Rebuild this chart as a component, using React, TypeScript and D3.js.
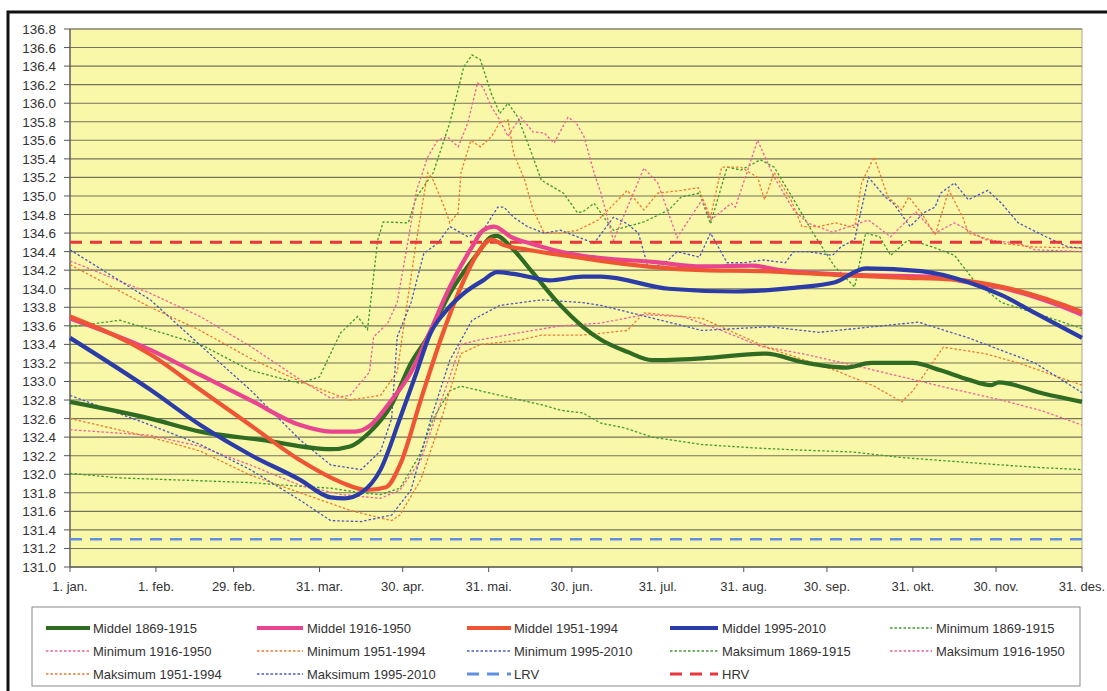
import * as d3 from 'd3';

type Pt = [number, number];

// x-akse: dag i året (skuddår), y-akse: vannstand (moh)
const tickDays = [0, 31, 59, 90, 120, 151, 181, 212, 243, 273, 304, 334, 365];
const tickLabels = ['1. jan.', '1. feb.', '29. feb.', '31. mar.', '30. apr.', '31. mai.', '30. jun.', '31. jul.', '31. aug.', '30. sep.', '31. okt.', '30. nov.', '31. des.'];
const yTicks = d3.range(0, 30).map(i => 131 + i * 0.2);

const lrv = 131.3;
const hrv = 134.5;

const middel1869: Pt[] = [
  [0, 132.78], [29, 132.6], [47, 132.46], [69, 132.37], [94, 132.27], [101, 132.3], [108, 132.45], [116, 132.75],
  [123, 133.2], [129, 133.48], [137, 133.95], [147, 134.38], [152, 134.56], [154, 134.57], [159, 134.45], [167, 134.17],
  [176, 133.85], [185, 133.59], [191.5, 133.45], [201, 133.32], [210, 133.23], [228, 133.25], [251, 133.3], [264, 133.21],
  [280, 133.15], [289, 133.2], [304, 133.2], [314, 133.12], [324, 133.02], [332, 132.96], [335, 132.99], [351, 132.87], [365, 132.78],
];
const middel1916: Pt[] = [
  [0, 133.68], [29, 133.34], [47, 133.07], [65, 132.8], [83, 132.53], [94, 132.46], [103, 132.46], [108, 132.52],
  [116, 132.8], [123, 133.1], [129, 133.48], [137, 134.02], [145, 134.45], [149, 134.63], [153, 134.67], [159, 134.56],
  [167, 134.48], [180, 134.38], [191.5, 134.33], [210, 134.29], [228, 134.24], [246, 134.25], [256, 134.2], [282, 134.15],
  [312, 134.13], [324, 134.07], [336, 134.01], [351, 133.88], [365, 133.72],
];
const middel1951: Pt[] = [
  [0, 133.7], [29, 133.29], [47, 132.91], [65, 132.53], [83, 132.15], [98, 131.91], [107, 131.83], [114, 131.86],
  [119, 132.1], [126.5, 132.8], [134, 133.48], [140, 133.95], [147, 134.38], [152, 134.53], [156.5, 134.47], [165, 134.42],
  [173, 134.38], [185, 134.33], [191.5, 134.3], [228, 134.2], [249, 134.19], [276, 134.15], [300, 134.12], [318, 134.1],
  [336, 134.02], [351, 133.9], [365, 133.75],
];
const middel1995: Pt[] = [
  [0, 133.47], [29, 132.91], [47, 132.53], [65, 132.21], [83, 131.94], [94, 131.75], [99, 131.74], [105, 131.8],
  [112, 132.05], [119, 132.6], [125, 133.1], [130, 133.52], [135, 133.74], [142, 133.95], [149, 134.09], [154, 134.18],
  [162, 134.15], [173, 134.09], [185, 134.13], [191.5, 134.13], [216, 134.0], [240, 133.97], [261, 134.01], [276, 134.07],
  [287, 134.22], [307, 134.19], [324, 134.07], [336, 133.93], [348, 133.74], [365, 133.47],
];

const min1869: Pt[] = [
  [0, 132.01], [18, 131.96], [47, 131.93], [65, 131.91], [83, 131.87], [94, 131.85], [105, 131.8], [112, 131.78],
  [119, 131.85], [126, 132.2], [131, 132.6], [137, 132.9], [141, 132.95], [148, 132.9], [155, 132.85], [170, 132.75],
  [177, 132.69], [185, 132.66], [191.5, 132.55], [200, 132.5], [210, 132.4], [228, 132.32], [249, 132.28], [264, 132.26],
  [282, 132.24], [300, 132.18], [318, 132.14], [336, 132.1], [351, 132.07], [365, 132.05],
];
const min1916: Pt[] = [
  [0, 132.48], [29, 132.42], [47, 132.3], [65, 132.1], [83, 131.88], [98, 131.78], [112, 131.74], [119, 131.83],
  [126.5, 132.15], [134, 132.8], [141, 133.4], [148, 133.45], [163, 133.53], [177, 133.6], [191.5, 133.63], [207, 133.72],
  [221, 133.7], [235, 133.55], [249, 133.38], [264, 133.3], [282, 133.18], [300, 133.05], [318, 132.92], [336, 132.8],
  [351, 132.68], [365, 132.53],
];
const min1951: Pt[] = [
  [0, 132.6], [29, 132.4], [47, 132.25], [65, 131.99], [83, 131.8], [101, 131.61], [116, 131.5], [119, 131.56],
  [126.5, 131.94], [134, 132.6], [141, 133.3], [148, 133.4], [155, 133.42], [163, 133.45], [170, 133.5], [185, 133.5],
  [201, 133.55], [207, 133.74], [228, 133.68], [252, 133.36], [276, 133.12], [290, 132.95], [300, 132.78], [304, 132.9],
  [315, 133.37], [330, 133.3], [342, 133.2], [365, 132.96],
];
const min1995: Pt[] = [
  [0, 132.85], [29, 132.53], [47, 132.32], [65, 132.05], [83, 131.72], [94, 131.5], [105, 131.49], [116, 131.56],
  [123, 131.83], [130, 132.58], [137, 133.23], [145, 133.66], [155, 133.82], [170, 133.88], [185, 133.85], [191.5, 133.82],
  [228, 133.55], [252, 133.59], [270, 133.53], [306, 133.64], [324, 133.47], [348, 133.2], [365, 132.88],
];

const maks1869: Pt[] = [
  [0, 133.59], [18, 133.66], [47, 133.4], [65, 133.12], [83, 132.98], [90, 133.05], [97.5, 133.52], [103.7, 133.7],
  [107.3, 133.56], [111, 134.53], [113, 134.72], [122, 134.71], [125, 134.99], [131, 135.25], [137, 135.79], [142, 136.39],
  [145, 136.52], [148, 136.47], [152, 136.1], [155, 135.89], [158, 136.0], [161.5, 135.85], [166, 135.5], [170, 135.17],
  [178, 135.03], [183, 134.82], [185, 134.83], [189, 134.92], [196, 134.63], [207, 134.72], [216, 134.85], [220.5, 134.99],
  [227, 135.03], [231, 134.7], [237, 135.31], [242, 135.28], [249, 135.39], [254, 135.31], [261, 134.96], [268, 134.6],
  [276, 134.23], [283, 134.02], [287, 134.6], [292, 134.56], [296, 134.36], [302, 134.52], [307, 134.49], [312, 134.44],
  [319, 134.36], [326, 134.09], [336, 133.85], [348, 133.74], [363, 133.59], [365, 133.57],
];
const maks1916: Pt[] = [
  [0, 134.3], [29, 133.95], [47, 133.7], [65, 133.38], [83, 133.02], [94, 132.82], [101, 132.85], [108, 133.1],
  [109.5, 133.48], [114.6, 133.63], [118, 133.85], [122, 134.53], [125, 135.06], [129, 135.42], [132.6, 135.6], [136, 135.64],
  [140, 135.53], [143.5, 135.79], [147, 136.22], [149, 136.17], [152, 135.96], [155, 135.82], [158, 135.64], [160, 135.74],
  [162.6, 135.85], [167, 135.69], [171, 135.68], [174.6, 135.57], [179.6, 135.85], [182.5, 135.79], [185.4, 135.64], [189, 135.25],
  [191.5, 135.03], [196, 134.52], [207, 135.3], [212, 135.14], [219, 134.55], [228, 134.96], [231, 134.74], [238.5, 134.92],
  [240, 134.88], [248, 135.6], [254, 135.2], [261, 134.85], [266, 134.71], [275, 134.61], [288, 134.74], [296, 134.56],
  [305, 134.83], [312, 134.6], [319, 134.71], [324, 134.63], [330, 134.53], [342, 134.49], [348, 134.42], [365, 134.4],
];
const maks1951: Pt[] = [
  [0, 134.26], [29, 133.8], [47, 133.55], [65, 133.25], [83, 133.0], [101, 132.8], [112, 132.85], [118, 133.1],
  [120, 133.52], [125, 134.53], [129, 135.25], [131, 135.17], [135, 134.88], [137, 134.71], [140, 134.82], [141, 135.25],
  [144.6, 135.6], [148, 135.53], [152, 135.64], [155, 135.79], [158, 135.82], [160, 135.46], [164, 135.17], [167, 134.85],
  [171, 134.6], [177, 134.6], [183, 134.63], [190.5, 134.74], [201, 135.06], [207, 134.85], [212, 135.03], [220.5, 135.06],
  [226.6, 135.09], [231, 134.77], [235, 135.31], [242, 135.31], [248, 135.2], [250.5, 134.96], [254, 135.25], [260, 134.96],
  [264, 134.67], [270, 134.67], [276, 134.71], [283, 134.66], [285.5, 135.14], [290, 135.42], [295, 134.99], [300, 134.85],
  [302.5, 134.99], [307, 134.82], [312, 134.58], [317, 135.06], [322, 134.77], [324, 134.6], [336, 134.49], [348, 134.45], [365, 134.44],
];
const maks1995: Pt[] = [
  [0, 134.42], [29, 133.88], [47, 133.39], [65, 132.91], [83, 132.37], [94, 132.1], [105, 132.05], [112, 132.25],
  [116, 132.6], [118, 133.48], [123, 133.85], [127.6, 134.38], [132.6, 134.49], [137, 134.67], [143.5, 134.56], [149, 134.63],
  [154.3, 134.88], [156.5, 134.88], [160, 134.77], [165, 134.67], [171, 134.6], [177, 134.63], [183, 134.56], [189, 134.49],
  [196, 134.77], [201, 134.7], [205, 134.6], [208.5, 134.23], [214, 134.26], [219, 134.4], [227, 134.34], [231, 134.6],
  [237, 134.28], [243, 134.28], [250, 134.31], [258, 134.28], [261, 134.4], [266, 134.4], [275, 134.36], [278, 134.45],
  [283, 134.53], [288, 135.2], [294, 134.99], [297, 134.92], [303, 134.67], [308, 134.82], [312, 134.88], [314, 135.03],
  [319, 135.14], [324, 134.96], [331, 135.06], [336, 134.92], [342, 134.71], [352, 134.56], [360, 134.45], [365, 134.44],
];

const W = 1107;
const H = 691;
const plot = { left: 70, right: 1082, top: 29, bottom: 567 };
const FONT = '"Liberation Sans", Arial, sans-serif';

const x = d3.scaleLinear().domain([0, 365]).range([plot.left, plot.right]);
const y = d3.scaleLinear().domain([131, 136.8]).range([plot.bottom, plot.top]);
const line = d3.line<Pt>().x(d => x(d[0])).y(d => y(d[1]));
const smooth = d3.line<Pt>().x(d => x(d[0])).y(d => y(d[1])).curve(d3.curveMonotoneX);

const C = {
  green: '#2f6b22', pink: '#e8448f', red: '#ee5535', blue: '#2b3ca8',
  gDot: '#3f9a2e', pDot: '#f0609f', oDot: '#f07a30', bDot: '#4a58c0',
  lrv: '#5f8fe0', hrv: '#e8363c',
};

const DOT = '2.5,2';
const thick = [
  { data: middel1869, color: C.green },
  { data: middel1916, color: C.pink },
  { data: middel1951, color: C.red },
  { data: middel1995, color: C.blue },
];
const dotted = [
  { data: min1869, color: C.gDot },
  { data: min1916, color: C.pDot },
  { data: min1951, color: C.oDot },
  { data: min1995, color: C.bDot },
  { data: maks1869, color: C.gDot },
  { data: maks1916, color: C.pDot },
  { data: maks1951, color: C.oDot },
  { data: maks1995, color: C.bDot },
];

type LegendItem = { label: string; color: string; kind: 'thick' | 'dot' | 'dash' };
const legendRows: LegendItem[][] = [
  [
    { label: 'Middel 1869-1915', color: C.green, kind: 'thick' },
    { label: 'Middel 1916-1950', color: C.pink, kind: 'thick' },
    { label: 'Middel 1951-1994', color: C.red, kind: 'thick' },
    { label: 'Middel 1995-2010', color: C.blue, kind: 'thick' },
    { label: 'Minimum 1869-1915', color: C.gDot, kind: 'dot' },
  ],
  [
    { label: 'Minimum 1916-1950', color: C.pDot, kind: 'dot' },
    { label: 'Minimum 1951-1994', color: C.oDot, kind: 'dot' },
    { label: 'Minimum 1995-2010', color: C.bDot, kind: 'dot' },
    { label: 'Maksimum 1869-1915', color: C.gDot, kind: 'dot' },
    { label: 'Maksimum 1916-1950', color: C.pDot, kind: 'dot' },
  ],
  [
    { label: 'Maksimum 1951-1994', color: C.oDot, kind: 'dot' },
    { label: 'Maksimum 1995-2010', color: C.bDot, kind: 'dot' },
    { label: 'LRV', color: C.lrv, kind: 'dash' },
    { label: 'HRV', color: C.hrv, kind: 'dash' },
  ],
];
const legendCols = [
  { x0: 46, x1: 90, tx: 93 },
  { x0: 257, x1: 303, tx: 307 },
  { x0: 467, x1: 511, tx: 514 },
  { x0: 670, x1: 718, tx: 722 },
  { x0: 890, x1: 932, tx: 936 },
];
const legendRowY = [628, 651, 674];

export default function App() {
  return (
    <svg width={W} height={H} style={{ position: 'absolute', left: 0, top: 0, background: '#fff' }}>
      {/* ytre ramme */}
      <rect x={8} y={12} width={W + 20} height={H + 20} fill="#fff" stroke="#111" strokeWidth={3} />

      {/* plotflate */}
      <rect x={plot.left} y={plot.top} width={plot.right - plot.left} height={plot.bottom - plot.top}
        fill="#f9f7a8" stroke="#a8a890" strokeWidth={1} />

      {/* rutenett */}
      {yTicks.map((t, i) => (
        <line key={i} x1={plot.left} x2={plot.right} y1={y(t)} y2={y(t)} stroke="#75745a" strokeWidth={1.1} />
      ))}

      {/* y-akse */}
      <line x1={plot.left} x2={plot.left} y1={plot.top} y2={plot.bottom} stroke="#555" strokeWidth={1.2} />
      {yTicks.map((t, i) => (
        <g key={i}>
          <line x1={plot.left - 6} x2={plot.left} y1={y(t)} y2={y(t)} stroke="#555" />
          <text x={56} y={y(t) + 5} textAnchor="end" fontFamily={FONT} fontSize={13.5} fill="#333">{t.toFixed(1)}</text>
        </g>
      ))}

      {/* x-akse */}
      <line x1={plot.left} x2={plot.right} y1={plot.bottom} y2={plot.bottom} stroke="#555" strokeWidth={1.2} />
      {tickDays.map((d, i) => (
        <g key={i}>
          <line x1={x(d)} x2={x(d)} y1={plot.bottom} y2={plot.bottom + 5} stroke="#555" />
          <text x={x(d)} y={591} textAnchor="middle" fontFamily={FONT} fontSize={13} fill="#333">{tickLabels[i]}</text>
        </g>
      ))}

      {/* grenser */}
      <line x1={plot.left} x2={plot.right} y1={y(lrv)} y2={y(lrv)} stroke={C.lrv} strokeWidth={2.5} strokeDasharray="12,8" />

      {/* stiplede min/maks */}
      {dotted.map((s, i) => (
        <path key={i} d={line(s.data) ?? ''} fill="none" stroke={s.color} strokeWidth={1.3} strokeDasharray={DOT} />
      ))}

      <line x1={plot.left} x2={plot.right} y1={y(hrv)} y2={y(hrv)} stroke={C.hrv} strokeWidth={3} strokeDasharray="12,8" />

      {/* middel */}
      {thick.map((s, i) => (
        <path key={i} d={smooth(s.data) ?? ''} fill="none" stroke={s.color}
          strokeWidth={4.2} strokeLinejoin="round" />
      ))}

      {/* tegnforklaring */}
      <rect x={32} y={607} width={1048} height={79} fill="#fff" stroke="#888" strokeWidth={1} />
      {legendRows.map((row, r) => row.map((item, c) => {
        const col = legendCols[c];
        const ly = legendRowY[r];
        return (
          <g key={`${r}-${c}`}>
            <line x1={col.x0} x2={col.x1} y1={ly} y2={ly} stroke={item.color}
              strokeWidth={item.kind === 'thick' ? 4 : item.kind === 'dash' ? 3 : 1.3}
              strokeDasharray={item.kind === 'dot' ? DOT : item.kind === 'dash' ? '12,8' : undefined} />
            <text x={col.tx} y={ly + 4.5} fontFamily={FONT} fontSize={13} fill="#333">{item.label}</text>
          </g>
        );
      }))}
    </svg>
  );
}
